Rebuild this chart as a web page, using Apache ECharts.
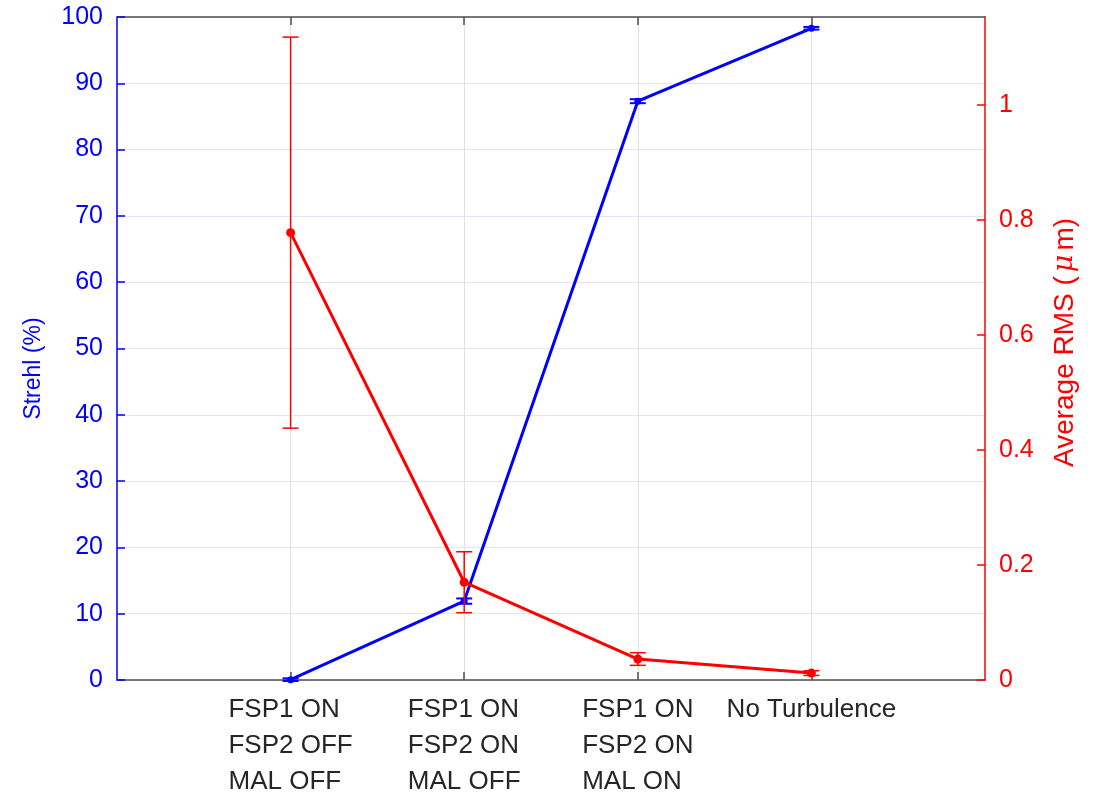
<!DOCTYPE html>
<html>
<head>
<meta charset="utf-8">
<title>Strehl and RMS</title>
<script src="https://cdn.jsdelivr.net/npm/echarts@6/dist/echarts.min.js"></script>
<style>
  html, body { margin: 0; padding: 0; background: #fff; }
  #chart { width: 1097px; height: 792px; }
</style>
</head>
<body>
<div id="chart"></div>
<script>
// data
const categories = [
  'FSP1 ON\nFSP2 OFF\nMAL OFF',
  'FSP1 ON\nFSP2 ON\nMAL OFF',
  'FSP1 ON\nFSP2 ON\nMAL ON',
  'No Turbulence'
]
const strehl = [0.05, 11.9, 87.3, 98.3]
const strehlErr = [0.2, 0.4, 0.3, 0.2]
const rms = [0.778, 0.170, 0.0365, 0.012]
const rmsErr = [0.34, 0.053, 0.011, 0.004]
const strehlTicks = [0, 10, 20, 30, 40, 50, 60, 70, 80, 90, 100]
const rmsTicks = [0, 0.2, 0.4, 0.6, 0.8, 1]

const FONT = '"Liberation Sans", Arial, sans-serif'
const BLUE = '#0000ff'
const RED = '#ff0000'
const FS = 25

const chart = echarts.init(document.getElementById('chart'))

const points = (vals) => vals.map((v, i) => [i + 1, v])
const bars = (vals, errs) => vals.map((v, i) => [i + 1, v - errs[i], v + errs[i]])

const errorBar = (color, width) => (params, api) => {
  const lo = api.coord([api.value(0), api.value(1)])
  const hi = api.coord([api.value(0), api.value(2)])
  const cap = 8
  const style = { stroke: color, lineWidth: width }
  return {
    type: 'group',
    children: [
      { type: 'line', shape: { x1: lo[0], y1: lo[1], x2: hi[0], y2: hi[1] }, style },
      { type: 'line', shape: { x1: lo[0] - cap, y1: lo[1], x2: lo[0] + cap, y2: lo[1] }, style },
      { type: 'line', shape: { x1: hi[0] - cap, y1: hi[1], x2: hi[0] + cap, y2: hi[1] }, style },
    ],
  }
}

const frameAxis = {
  type: 'value',
  min: 0,
  max: 5,
  interval: 1,
  axisLine: { onZero: false, lineStyle: { color: '#4d4d4d', width: 1.5 } },
  axisTick: {
    inside: true,
    length: 8,
    lineStyle: { color: '#4d4d4d', width: 1.5 },
    customValues: [1, 2, 3, 4],
  },
}

const option = {
  animation: false,
  backgroundColor: '#fff',
  grid: { left: 117, right: 112, top: 17, bottom: 112, outerBoundsMode: 'none' },
  xAxis: [
    {
      ...frameAxis,
      position: 'bottom',
      splitLine: { show: true, lineStyle: { color: '#e2e2e2', width: 1 } },
      axisLabel: {
        margin: 12,
        customValues: [1, 2, 3, 4],
        formatter: (v) => {
          const text = categories[v - 1]
          if (!text) return ''
          return text.split('\n').map((l) => '{c|' + l + '}').join('\n')
        },
        rich: {
          c: {
            fontFamily: FONT,
            fontSize: 26,
            color: '#262626',
            lineHeight: 36,
            align: 'left',
          },
        },
      },
    },
    {
      ...frameAxis,
      position: 'top',
      axisLabel: { show: false },
      splitLine: { show: false },
    },
  ],
  yAxis: [
    {
      type: 'value',
      position: 'left',
      min: strehlTicks[0],
      max: strehlTicks[strehlTicks.length - 1],
      interval: 10,
      name: 'Strehl (%)',
      nameLocation: 'middle',
      nameGap: 72,
      nameTextStyle: { color: BLUE, fontFamily: FONT, fontSize: 23, padding: [0, 40, 0, 0] },
      axisLine: { show: true, onZero: false, lineStyle: { color: BLUE, width: 1.5 } },
      axisTick: { show: true, inside: true, length: 8, lineStyle: { color: BLUE, width: 1.5 } },
      axisLabel: { color: BLUE, fontFamily: FONT, fontSize: FS, margin: 14 },
      splitLine: { show: true, lineStyle: { color: '#e4e4fb', width: 1 } },
    },
    {
      type: 'value',
      position: 'right',
      min: 0,
      max: 1.153,
      interval: 0.2,
      name: 'Average RMS ({i|μ}m)',
      nameLocation: 'middle',
      nameGap: 66,
      nameRotate: 90,
      nameTextStyle: {
        color: RED,
        fontFamily: FONT,
        fontSize: 28,
        padding: [0, 0, 0, 12],
        rich: {
          i: { color: RED, fontFamily: '"DejaVu Serif", serif', fontStyle: 'italic', fontSize: 27, padding: [0, 4, 0, 4] },
        },
      },
      axisLine: { show: true, onZero: false, lineStyle: { color: RED, width: 1.5 } },
      axisTick: {
        show: true,
        inside: true,
        length: 8,
        lineStyle: { color: RED, width: 1.5 },
        customValues: rmsTicks,
      },
      axisLabel: {
        color: RED,
        fontFamily: FONT,
        fontSize: FS,
        margin: 14,
        customValues: rmsTicks,
        formatter: (v) => String(Math.round(v * 10) / 10),
      },
      splitLine: { show: false },
    },
  ],
  series: [
    {
      name: 'Strehl',
      type: 'line',
      yAxisIndex: 0,
      data: points(strehl),
      z: 3,
      lineStyle: { color: BLUE, width: 3 },
      itemStyle: { color: BLUE },
      symbol: 'circle',
      symbolSize: 7,
    },
    {
      name: 'Strehl err',
      type: 'custom',
      yAxisIndex: 0,
      z: 3,
      data: bars(strehl, strehlErr),
      encode: { x: 0, y: [1, 2] },
      renderItem: errorBar(BLUE, 2),
    },
    {
      name: 'RMS',
      type: 'line',
      yAxisIndex: 1,
      data: points(rms),
      z: 4,
      lineStyle: { color: RED, width: 3 },
      itemStyle: { color: RED },
      symbol: 'circle',
      symbolSize: 9,
    },
    {
      name: 'RMS err',
      type: 'custom',
      yAxisIndex: 1,
      z: 4,
      data: bars(rms, rmsErr),
      encode: { x: 0, y: [1, 2] },
      renderItem: errorBar(RED, 1.5),
    },
  ],
}

chart.setOption(option)
</script>
</body>
</html>
